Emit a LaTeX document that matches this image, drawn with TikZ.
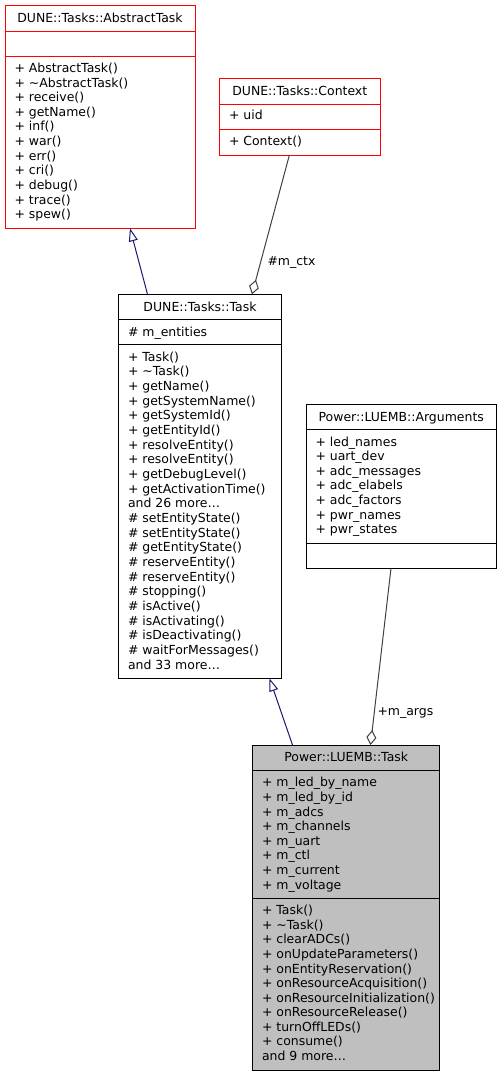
\documentclass[tikz,border=0pt]{standalone}
\usepackage{fontspec}
\setmainfont{DejaVu Sans}
\usetikzlibrary{arrows.meta,calc}
\definecolor{midblue}{HTML}{191970}
\definecolor{aggcol}{HTML}{404040}
\definecolor{gfill}{HTML}{BFBFBF}
\begin{document}
\begin{tikzpicture}[x=0.75pt,y=-0.75pt,
  box/.style={draw, rectangle, inner sep=0pt, outer sep=0pt, anchor=north west, line width=0.75pt},
  redbox/.style={box, draw=red, fill=white},
  blkbox/.style={box, draw=black, fill=white},
  graybox/.style={box, draw=black, fill=gfill},
  txt/.style={anchor=base west, inner sep=0pt, outer sep=0pt, font=\fontsize{9.35}{11}\selectfont},
  ttl/.style={anchor=base, inner sep=0pt, outer sep=0pt, font=\fontsize{9.35}{11}\selectfont},
  inh/.style={draw=midblue, line width=0.75pt, -{Triangle[length=9.75pt, width=6.75pt, fill=white]}},
  agg/.style={draw=aggcol, line width=0.75pt, -{Diamond[length=11.25pt, width=7.5pt, fill=white]}}
]
\useasboundingbox[fill=white] (0,0) rectangle (501,1077);

% ---------- DUNE::Tasks::AbstractTask ----------
\node[redbox, minimum width=142.5pt, minimum height=19.5pt] (absh) at (5,6) {};
\node[redbox, minimum width=142.5pt, minimum height=18.75pt] (absa) at (absh.south west) {};
\node[redbox, minimum width=142.5pt, minimum height=128.5pt] (absm) at (absa.south west) {};
\node[ttl] (abst) at ([shift={(0,4)}]absh.center) {DUNE::Tasks::AbstractTask};
\foreach [count=\i] \t in {{+ AbstractTask()}, {+ \textasciitilde AbstractTask()}, {+ receive()}, {+ getName()}, {+ inf()}, {+ war()}, {+ err()}, {+ cri()}, {+ debug()}, {+ trace()}, {+ spew()}}
  \node[txt] (absm\i) at ([shift={(9.5,{15.6+(\i-1)*14.6})}]absm.north west) {\t};

% ---------- DUNE::Tasks::Context ----------
\node[redbox, minimum width=120.4pt, minimum height=19pt] (ctxh) at (219.5,79) {};
\node[redbox, minimum width=120.4pt, minimum height=19.25pt] (ctxa) at (ctxh.south west) {};
\node[redbox, minimum width=120.4pt, minimum height=19pt] (ctxm) at (ctxa.south west) {};
\node[ttl] (ctxt) at ([shift={(0,4)}]ctxh.center) {DUNE::Tasks::Context};
\node[txt] (ctxa1) at ([shift={(9.5,15.6)}]ctxa.north west) {+ uid};
\node[txt] (ctxm1) at ([shift={(9.5,15.6)}]ctxm.north west) {+ Context()};

% ---------- DUNE::Tasks::Task ----------
\node[blkbox, minimum width=122.25pt, minimum height=19.25pt] (tskh) at (118.5,294.3) {};
\node[blkbox, minimum width=122.25pt, minimum height=18.75pt] (tska) at (tskh.south west) {};
\node[blkbox, minimum width=122.25pt, minimum height=250pt] (tskm) at (tska.south west) {};
\node[ttl] (tskt) at ([shift={(0,4)}]tskh.center) {DUNE::Tasks::Task};
\node[txt] (tska1) at ([shift={(9.5,16.1)}]tska.north west) {\# m\_entities};
\foreach [count=\i] \t in {{+ Task()}, {+ \textasciitilde Task()}, {+ getName()}, {+ getSystemName()}, {+ getSystemId()}, {+ getEntityId()}, {+ resolveEntity()}, {+ resolveEntity()}, {+ getDebugLevel()}, {+ getActivationTime()}, {and 26 more\ldots}, {\# setEntityState()}, {\# setEntityState()}, {\# getEntityState()}, {\# reserveEntity()}, {\# reserveEntity()}, {\# stopping()}, {\# isActive()}, {\# isActivating()}, {\# isDeactivating()}, {\# waitForMessages()}, {and 33 more\ldots}}
  \node[txt] (tskm\i) at ([shift={(9.5,{16.1+(\i-1)*14.68})}]tskm.north west) {\t};

% ---------- Power::LUEMB::Arguments ----------
\node[blkbox, minimum width=142.9pt, minimum height=19.25pt] (argh) at (306,404.3) {};
\node[blkbox, minimum width=142.9pt, minimum height=85.5pt] (arga) at (argh.south west) {};
\node[blkbox, minimum width=142.9pt, minimum height=18.25pt] (argm) at (arga.south west) {};
\node[ttl] (argt) at ([shift={(0,4)}]argh.center) {Power::LUEMB::Arguments};
\foreach [count=\i] \t in {{+ led\_names}, {+ uart\_dev}, {+ adc\_messages}, {+ adc\_elabels}, {+ adc\_factors}, {+ pwr\_names}, {+ pwr\_states}}
  \node[txt] (arga\i) at ([shift={(9.5,{16.1+(\i-1)*14.6})}]arga.north west) {\t};

% ---------- Power::LUEMB::Task ----------
\node[graybox, minimum width=140.6pt, minimum height=18.75pt] (lueh) at (252.5,745) {};
\node[graybox, minimum width=140.6pt, minimum height=96.25pt] (luea) at (lueh.south west) {};
\node[graybox, minimum width=140.6pt, minimum height=128.75pt] (luem) at (luea.south west) {};
\node[ttl] (luet) at ([shift={(0,4)}]lueh.center) {Power::LUEMB::Task};
\foreach [count=\i] \t in {{+ m\_led\_by\_name}, {+ m\_led\_by\_id}, {+ m\_adcs}, {+ m\_channels}, {+ m\_uart}, {+ m\_ctl}, {+ m\_current}, {+ m\_voltage}}
  \node[txt] (luea\i) at ([shift={(9.5,{16.8+(\i-1)*14.6})}]luea.north west) {\t};
\foreach [count=\i] \t in {{+ Task()}, {+ \textasciitilde Task()}, {+ clearADCs()}, {+ onUpdateParameters()}, {+ onEntityReservation()}, {+ onResourceAcquisition()}, {+ onResourceInitialization()}, {+ onResourceRelease()}, {+ turnOffLEDs()}, {+ consume()}, {and 9 more\ldots}}
  \node[txt] (luem\i) at ([shift={(9.5,{16.5+(\i-1)*14.55})}]luem.north west) {\t};

% ---------- connectors ----------
\draw[inh] ([shift={(29,0)}]tskh.north west) -- ([shift={(125,0)}]absm.south west);
\draw[agg] ([shift={(69.8,0)}]ctxm.south west) -- ([shift={(133.5,0)}]tskh.north west);
\draw[inh] ([shift={(40,0)}]lueh.north west) -- ([shift={(151,0)}]tskm.south west);
\draw[agg] ([shift={(85,0)}]argm.south west) -- ([shift={(118,0)}]lueh.north west);

\node[txt] (lctx) at (267.5,265.3) {\#m\_ctx};
\node[txt] (largs) at (377.5,715) {+m\_args};
\end{tikzpicture}
\end{document}
